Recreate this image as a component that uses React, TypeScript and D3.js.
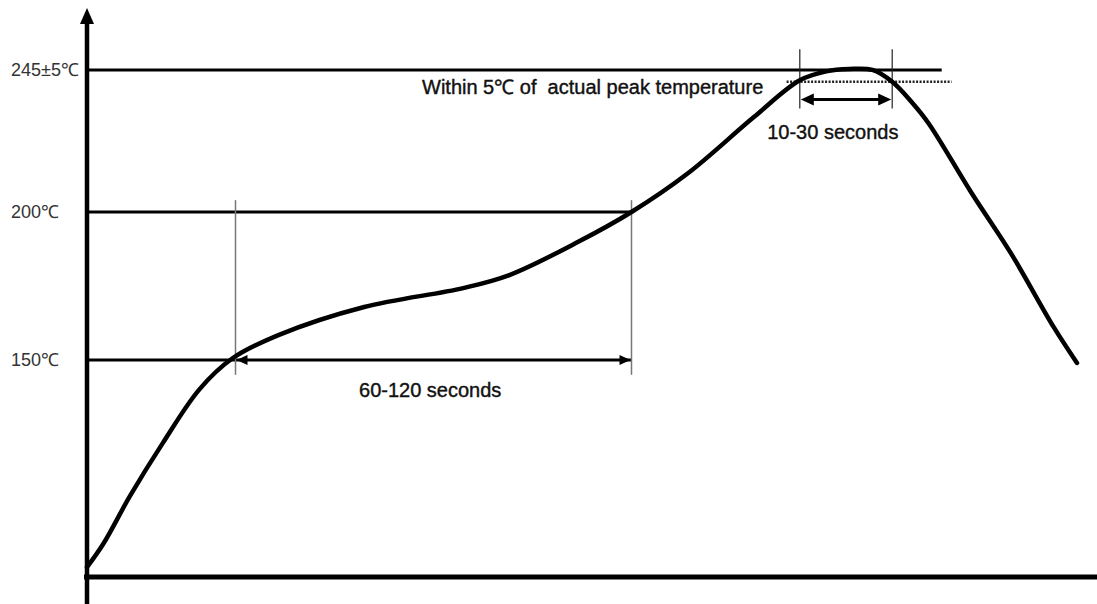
import React, { useEffect, useRef } from 'react';
import * as d3 from 'd3';

// reflow profile (seconds, ℃)
const times = [0, 5, 13, 23, 34, 44, 58, 84, 114, 128, 149, 165, 182, 202, 216, 224, 231, 238, 244, 250, 255, 268, 280, 293, 300];
const temps = [80, 88, 104, 122, 140, 150.5, 158.4, 167.9, 174.3, 178.7, 190, 200, 213, 232, 244.5, 247.5, 248.3, 248, 244, 237, 230, 206.5, 186, 161, 149];

// reference levels and their labels
const levelValues = [248, 200, 150];
const levelLabels = ['245±5℃', '200℃', '150℃'];
const levelEnds = [259, 165, 165];

// soak window (60-120 s) and time above peak-5 (10-30 s)
const soakWindow = [45, 165];
const soakSpan = [145, 204];
const peakWindow = [216, 244];
const peakSpan = [235, 255];
const peakArrowTemp = 238;
const dottedLevel = 244;
const dottedRange = [212, 262];

const App = () => {
  const ref = useRef<SVGSVGElement>(null);

  useEffect(() => {
    const width = 1097;
    const height = 604;
    const svg = d3.select(ref.current);
    svg.selectAll('*').remove();
    svg.attr('width', width).attr('height', height);

    const x = d3.scaleLinear().domain([0, 300]).range([87, 1077]);
    const y = d3.scaleLinear().domain([150, 200]).range([360, 212]);
    const x0 = x(0);
    const axisY = 577;
    const font = 'Liberation Sans, Arial, sans-serif';

    svg.append('rect').attr('width', width).attr('height', height).attr('fill', '#fff');

    // axes
    svg.append('line')
      .attr('x1', x0).attr('x2', x0).attr('y1', 20).attr('y2', height)
      .attr('stroke', '#000').attr('stroke-width', 4.5);
    svg.append('path')
      .attr('d', `M${x0},8 L${x0 - 7},24 L${x0 + 7},24 Z`)
      .attr('fill', '#000');
    svg.append('line')
      .attr('x1', x0 - 3).attr('x2', width).attr('y1', axisY).attr('y2', axisY)
      .attr('stroke', '#000').attr('stroke-width', 5);

    // horizontal levels
    levelValues.forEach((v, i) => {
      svg.append('line')
        .attr('x1', x0).attr('x2', x(levelEnds[i]))
        .attr('y1', y(v)).attr('y2', y(v))
        .attr('stroke', '#000').attr('stroke-width', 3);
      svg.append('text')
        .attr('x', 11).attr('y', y(v))
        .attr('dy', '0.36em')
        .attr('font-family', font)
        .attr('font-size', 18)
        .attr('fill', '#333')
        .text(levelLabels[i]);
    });

    // thin verticals
    const verts = [
      ...soakWindow.map(t => ({ t, span: soakSpan, color: '#777', w: 1.5 })),
      ...peakWindow.map(t => ({ t, span: peakSpan, color: '#222', w: 1.2 }))
    ];
    verts.forEach(d => {
      svg.append('line')
        .attr('x1', x(d.t)).attr('x2', x(d.t))
        .attr('y1', y(d.span[1])).attr('y2', y(d.span[0]))
        .attr('stroke', d.color).attr('stroke-width', d.w);
    });

    // dotted peak-5 line
    svg.append('line')
      .attr('x1', x(dottedRange[0])).attr('x2', x(dottedRange[1]))
      .attr('y1', y(dottedLevel)).attr('y2', y(dottedLevel))
      .attr('stroke', '#222').attr('stroke-width', 2.5)
      .attr('stroke-dasharray', '2,1.5');

    const arrowHead = (px: number, py: number, dir: number, len: number, hw: number) => {
      svg.append('path')
        .attr('d', `M${px},${py} L${px - dir * len},${py - hw} L${px - dir * len},${py + hw} Z`)
        .attr('fill', '#000');
    };

    // soak double arrow (line itself is the 150 level)
    arrowHead(x(soakWindow[0]) + 1, y(150), -1, 11, 5);
    arrowHead(x(soakWindow[1]) - 1, y(150), 1, 11, 5);

    // peak double arrow
    const pa = y(peakArrowTemp);
    svg.append('line')
      .attr('x1', x(peakWindow[0]) + 6).attr('x2', x(peakWindow[1]) - 6)
      .attr('y1', pa).attr('y2', pa)
      .attr('stroke', '#000').attr('stroke-width', 3);
    arrowHead(x(peakWindow[0]) + 1, pa, -1, 13, 6);
    arrowHead(x(peakWindow[1]) - 1, pa, 1, 13, 6);

    // profile curve
    const line = d3.line<number>()
      .x((_, i) => x(times[i]))
      .y(d => y(d))
      .curve(d3.curveCatmullRom.alpha(0.5));
    svg.append('path')
      .datum(temps)
      .attr('d', line)
      .attr('fill', 'none')
      .attr('stroke', '#000')
      .attr('stroke-width', 4.5)
      .attr('stroke-linejoin', 'round')
      .attr('stroke-linecap', 'round');

    // annotations
    const note = (tx: number, ty: number, anchor: string, label: string) =>
      svg.append('text')
        .attr('x', tx).attr('y', ty)
        .attr('text-anchor', anchor)
        .attr('font-family', font).attr('font-size', 20)
        .attr('fill', '#111').attr('stroke', '#111').attr('stroke-width', 0.4)
        .style('white-space', 'pre')
        .text(label);
    note(x(104), 397, 'middle', '60-120 seconds');
    note(x(226), 139, 'middle', '10-30 seconds');
    note(422, 94, 'start', 'Within 5℃ of  actual peak temperature');
  }, []);

  return <svg ref={ref} style={{ position: 'absolute', left: 0, top: 0, display: 'block' }}></svg>;
};

export default App;
